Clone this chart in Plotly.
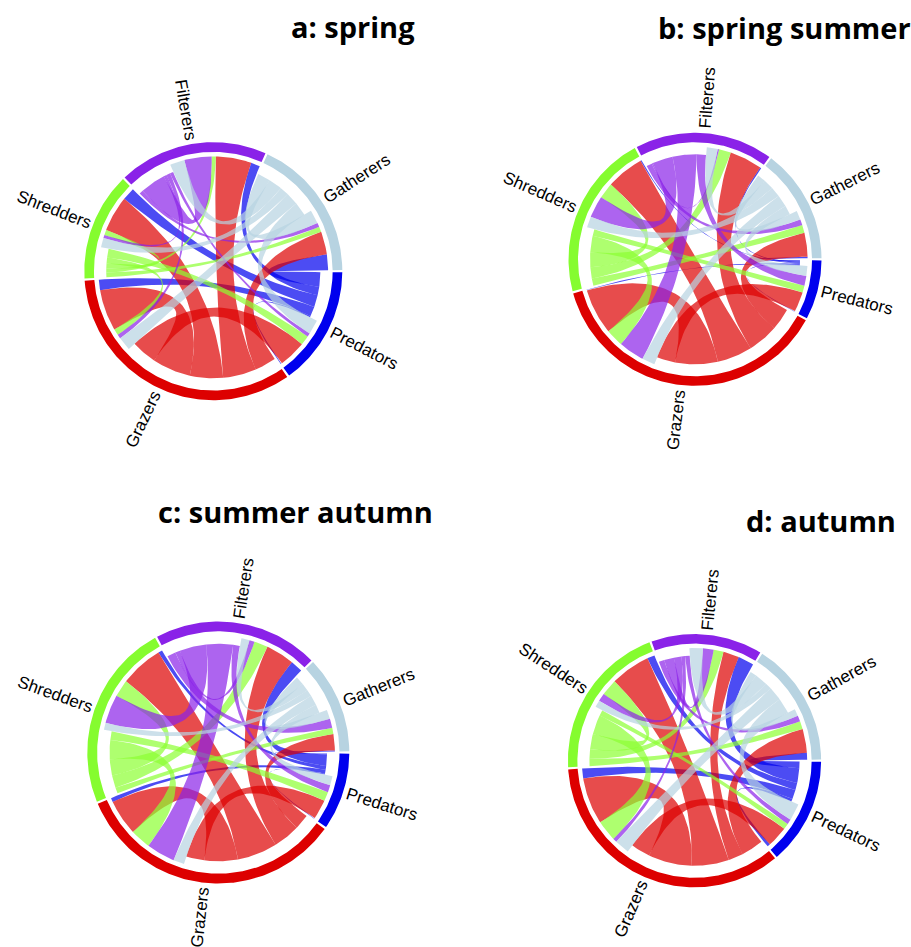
# chord diagrams of functional feeding groups per season

import numpy as np
import plotly.graph_objects as go

GROUPS = ["Predators", "Grazers", "Shredders", "Filterers", "Gatherers"]
RING_COLORS = ["#0000EE", "#DD0000", "#85FC2F", "#8A22E8", "#B7D3E1"]
LINK_COLORS = [
    "rgba(0,0,238,0.7)",
    "rgba(221,0,0,0.7)",
    "rgba(140,255,50,0.7)",
    "rgba(138,34,232,0.7)",
    "rgba(183,211,225,0.7)",
]

TITLES = ["a: spring", "b: spring summer", "c: summer autumn", "d: autumn"]

# flows, row = source group, column = target group, same order as GROUPS
SPRING = [
    [0.7, 5.0, 6.1, 4.3, 7.5],
    [13.0, 19.7, 17.0, 17.0, 11.0],
    [4.5, 3.0, 2.5, 2.0, 2.5],
    [1.7, 2.0, 1.5, 13.0, 2.0],
    [7.0, 6.5, 4.5, 7.0, 6.5],
]
SPRING_SUMMER = [
    [0.4, 0.5, 0.5, 0.6, 0.8],
    [10.0, 23.0, 19.0, 16.5, 12.0],
    [3.5, 9.0, 8.0, 6.0, 4.0],
    [5.0, 13.0, 11.0, 0.7, 3.0],
    [5.0, 6.5, 5.5, 5.5, 4.5],
]
SUMMER_AUTUMN = [
    [0.5, 2.0, 2.0, 6.0, 0.5],
    [9.5, 17.5, 21.0, 14.0, 8.0],
    [4.5, 10.0, 8.4, 6.7, 3.0],
    [3.5, 14.0, 14.0, 2.5, 4.5],
    [4.5, 5.3, 3.5, 4.0, 4.5],
]
AUTUMN = [
    [1.5, 5.0, 3.8, 8.0, 3.5],
    [10.5, 23.5, 20.0, 8.0, 12.0],
    [3.0, 10.5, 8.3, 5.0, 4.0],
    [2.5, 2.0, 4.0, 5.3, 3.0],
    [8.5, 7.5, 3.5, 6.8, 3.5],
]
MATRICES = [SPRING, SPRING_SUMMER, SUMMER_AUTUMN, AUTUMN]

# panel placement in pixels
WIDTH, HEIGHT = 911, 947
CENTERS = [(213.3, 271.2), (695.0, 259.3), (218.3, 752.5), (694.5, 760.7)]
RADII = [129.0, 126.5, 131.0, 126.6]
TITLE_POS = [(353, 26), (784, 27), (295, 511), (821, 520)]

GAP = 1.0
RING_IN = 0.925
LINK_IN = 0.89
LINK_OUT = 0.83
LABEL_LEN = [75, 64, 78, 64, 78]


def xy(theta, r):
    # angles are degrees, clockwise from 3 o'clock
    t = np.radians(theta)
    return r * np.cos(t), -r * np.sin(t)


def arc(t0, t1, r):
    n = max(int(abs(t1 - t0)) + 2, 3)
    return xy(np.linspace(t0, t1, n), r)


def bezier(p0, p1):
    # quadratic curve pulled towards the circle centre
    s = np.linspace(0, 1, 40)
    return (1 - s) ** 2 * p0[0] + s**2 * p1[0], (1 - s) ** 2 * p0[1] + s**2 * p1[1]


def band(a0, a1, b0, b1):
    ax, ay = arc(a0, a1, LINK_OUT)
    bx, by = arc(b0, b1, LINK_IN)
    e1x, e1y = bezier((ax[-1], ay[-1]), (bx[0], by[0]))
    e2x, e2y = bezier((bx[-1], by[-1]), (ax[0], ay[0]))
    return np.concatenate([ax, e1x, bx, e2x]), np.concatenate([ay, e1y, by, e2y])


def layout_sectors(m):
    # each sector holds its outgoing slices first, then the incoming ones,
    # both walked through the groups in reverse order
    m = np.array(m, dtype=float)
    n = len(GROUPS)
    scale = (360 - n * GAP) / (2 * m.sum())
    pos = GAP / 2
    spans, out_slices, in_slices = [], {}, {}
    for i in range(n):
        start = pos
        for j in reversed(range(n)):
            w = m[i, j] * scale
            out_slices[(i, j)] = (pos, pos + w)
            pos += w
        for j in reversed(range(n)):
            w = m[j, i] * scale
            in_slices[(j, i)] = (pos, pos + w)
            pos += w
        spans.append((start, pos))
        pos += GAP
    return spans, out_slices, in_slices


fig = go.Figure()
annotations = []

for k, matrix in enumerate(MATRICES):
    cx, cy = CENTERS[k]
    R = RADII[k]
    half = R * 1.02
    ax_id = "" if k == 0 else str(k + 1)
    fig.update_layout(
        {
            f"xaxis{ax_id}": dict(
                domain=[(cx - half) / WIDTH, (cx + half) / WIDTH],
                range=[-1.02, 1.02],
                visible=False,
                fixedrange=True,
            ),
            f"yaxis{ax_id}": dict(
                domain=[1 - (cy + half) / HEIGHT, 1 - (cy - half) / HEIGHT],
                range=[-1.02, 1.02],
                visible=False,
                fixedrange=True,
            ),
        }
    )
    spans, out_slices, in_slices = layout_sectors(matrix)

    for i, group in enumerate(GROUPS):
        for j, target in enumerate(GROUPS):
            if matrix[i][j] <= 0:
                continue
            x, y = band(*out_slices[(i, j)], *in_slices[(i, j)])
            fig.add_trace(
                go.Scatter(
                    x=x, y=y, mode="lines", fill="toself",
                    fillcolor=LINK_COLORS[i], line=dict(width=0),
                    name=f"{group} to {target}", hoverinfo="name",
                    showlegend=False, xaxis=f"x{ax_id}", yaxis=f"y{ax_id}",
                )
            )

    for i, group in enumerate(GROUPS):
        t0, t1 = spans[i]
        ox, oy = arc(t0, t1, 1.0)
        ix, iy = arc(t1, t0, RING_IN)
        fig.add_trace(
            go.Scatter(
                x=np.concatenate([ox, ix]), y=np.concatenate([oy, iy]),
                mode="lines", fill="toself", fillcolor=RING_COLORS[i],
                line=dict(width=0), name=group, hoverinfo="name",
                showlegend=False, xaxis=f"x{ax_id}", yaxis=f"y{ax_id}",
            )
        )
        # radial label, flipped on the left half so it never reads upside down
        mid = (t0 + t1) / 2
        rot = mid if np.cos(np.radians(mid)) >= 0 else mid - 180
        if rot > 180:
            rot -= 360
        lx, ly = xy(mid, R + 3 + LABEL_LEN[i] / 2)
        annotations.append(
            dict(
                x=(cx + lx) / WIDTH, y=1 - (cy - ly) / HEIGHT,
                xref="paper", yref="paper", text=group, showarrow=False,
                textangle=rot, xanchor="center", yanchor="middle",
                font=dict(family="Liberation Sans", size=17, color="black"),
            )
        )

    annotations.append(
        dict(
            x=TITLE_POS[k][0] / WIDTH, y=1 - TITLE_POS[k][1] / HEIGHT,
            xref="paper", yref="paper", text=f"<b>{TITLES[k]}</b>",
            showarrow=False, xanchor="center", yanchor="middle",
            font=dict(family="Open Sans", size=29, color="black"),
        )
    )

fig.update_layout(
    width=WIDTH, height=HEIGHT, autosize=False,
    margin=dict(l=0, r=0, t=0, b=0),
    paper_bgcolor="white", plot_bgcolor="white",
    showlegend=False, annotations=annotations,
)

fig.write_html(
    "out.html",
    config={"displayModeBar": False},
    post_script="document.body.style.margin='0';",
)
